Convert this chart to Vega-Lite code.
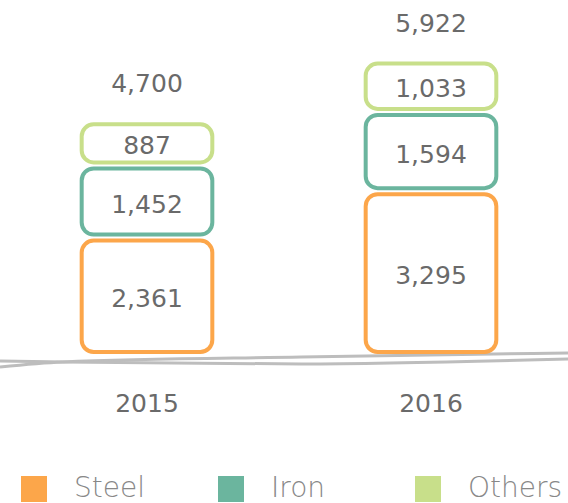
{
  "$schema": "https://vega.github.io/schema/vega-lite/v6.json",
  "width": 568,
  "height": 358,
  "padding": {"left": 0, "right": 0, "top": 0, "bottom": 145},
  "autosize": {"type": "none"},
  "config": {"view": {"stroke": null}, "font": "DejaVu Sans"},
  "datasets": {
    "materials": [
      {"year": "2015", "material": "Steel", "value": 2361},
      {"year": "2015", "material": "Iron", "value": 1452},
      {"year": "2015", "material": "Others", "value": 887},
      {"year": "2016", "material": "Steel", "value": 3295},
      {"year": "2016", "material": "Iron", "value": 1594},
      {"year": "2016", "material": "Others", "value": 1033}
    ],
    "baseline": [
      {"line": "a", "bx": 0, "by": -181},
      {"line": "a", "bx": 0.11, "by": -80},
      {"line": "a", "bx": 0.53, "by": 20},
      {"line": "a", "bx": 1, "by": 100},
      {"line": "b", "bx": 0, "by": -60},
      {"line": "b", "bx": 0.11, "by": -80},
      {"line": "b", "bx": 0.53, "by": -121},
      {"line": "b", "bx": 1, "by": -20}
    ]
  },
  "layer": [
    {
      "data": {"name": "baseline"},
      "mark": {"type": "line", "stroke": "#bdbdbd", "strokeWidth": 3, "interpolate": "monotone"},
      "encoding": {
        "x": {"field": "bx", "type": "quantitative", "scale": {"domain": [0, 1], "nice": false}, "axis": null},
        "y": {"field": "by", "type": "quantitative", "scale": {"domain": [0, 7200], "nice": false}, "axis": null},
        "detail": {"field": "line"}
      }
    },
    {
      "data": {"name": "materials"},
      "transform": [
        {"calculate": "indexof(['Steel','Iron','Others'], datum.material)", "as": "ord"},
        {"stack": "value", "groupby": ["year"], "sort": [{"field": "ord"}], "as": ["y0", "y1"]},
        {"calculate": "(datum.y0 + datum.y1) / 2", "as": "mid"}
      ],
      "encoding": {
        "x": {
          "field": "year",
          "type": "nominal",
          "scale": {"range": [5, 573], "paddingInner": 0.54, "paddingOuter": 0.27},
          "axis": {"title": null, "domain": false, "ticks": false, "labelAngle": 0, "labelPadding": 33, "labelFontSize": 25, "labelColor": "#6a6a6a", "labelFont": "DejaVu Sans"}
        }
      },
      "layer": [
        {
          "mark": {"type": "bar", "fill": "white", "strokeWidth": 4, "cornerRadius": 12, "y2Offset": -6},
          "encoding": {
            "y": {"field": "y1", "type": "quantitative", "scale": {"domain": [0, 7200], "nice": false}, "axis": null},
            "y2": {"field": "y0"},
            "stroke": {
              "field": "material",
              "type": "nominal",
              "scale": {"domain": ["Steel", "Iron", "Others"], "range": ["#fca64a", "#6bb59e", "#c8df8a"]},
              "legend": null
            },
            "color": {
              "field": "material",
              "type": "nominal",
              "scale": {"domain": ["Steel", "Iron", "Others"], "range": ["#fca64a", "#6bb59e", "#c8df8a"]},
              "legend": {
                "title": null,
                "orient": "none",
                "legendX": 20,
                "legendY": 475,
                "direction": "horizontal",
                "symbolType": "square",
                "symbolSize": 676,
                "symbolStrokeWidth": 0,
                "symbolOpacity": 1,
                "labelFontSize": 28,
                "labelFont": "DejaVu Sans",
                "labelFontWeight": 200,
                "labelColor": "#888888",
                "labelOffset": 26,
                "columnPadding": 48,
                "gridAlign": "all"
              }
            }
          }
        },
        {
          "mark": {"type": "text", "fontSize": 25, "color": "#6a6a6a", "baseline": "middle", "font": "DejaVu Sans"},
          "encoding": {
            "y": {"field": "mid", "type": "quantitative", "scale": {"domain": [0, 7200], "nice": false}},
            "text": {"field": "value", "type": "quantitative", "format": ","}
          }
        },
        {
          "transform": [
            {"aggregate": [{"op": "sum", "field": "value", "as": "total"}], "groupby": ["year"]}
          ],
          "mark": {"type": "text", "fontSize": 25, "color": "#6a6a6a", "baseline": "middle", "yOffset": -40, "font": "DejaVu Sans"},
          "encoding": {
            "y": {"field": "total", "type": "quantitative", "scale": {"domain": [0, 7200], "nice": false}},
            "text": {"field": "total", "type": "quantitative", "format": ","}
          }
        }
      ]
    }
  ],
  "resolve": {"scale": {"x": "independent"}}
}
